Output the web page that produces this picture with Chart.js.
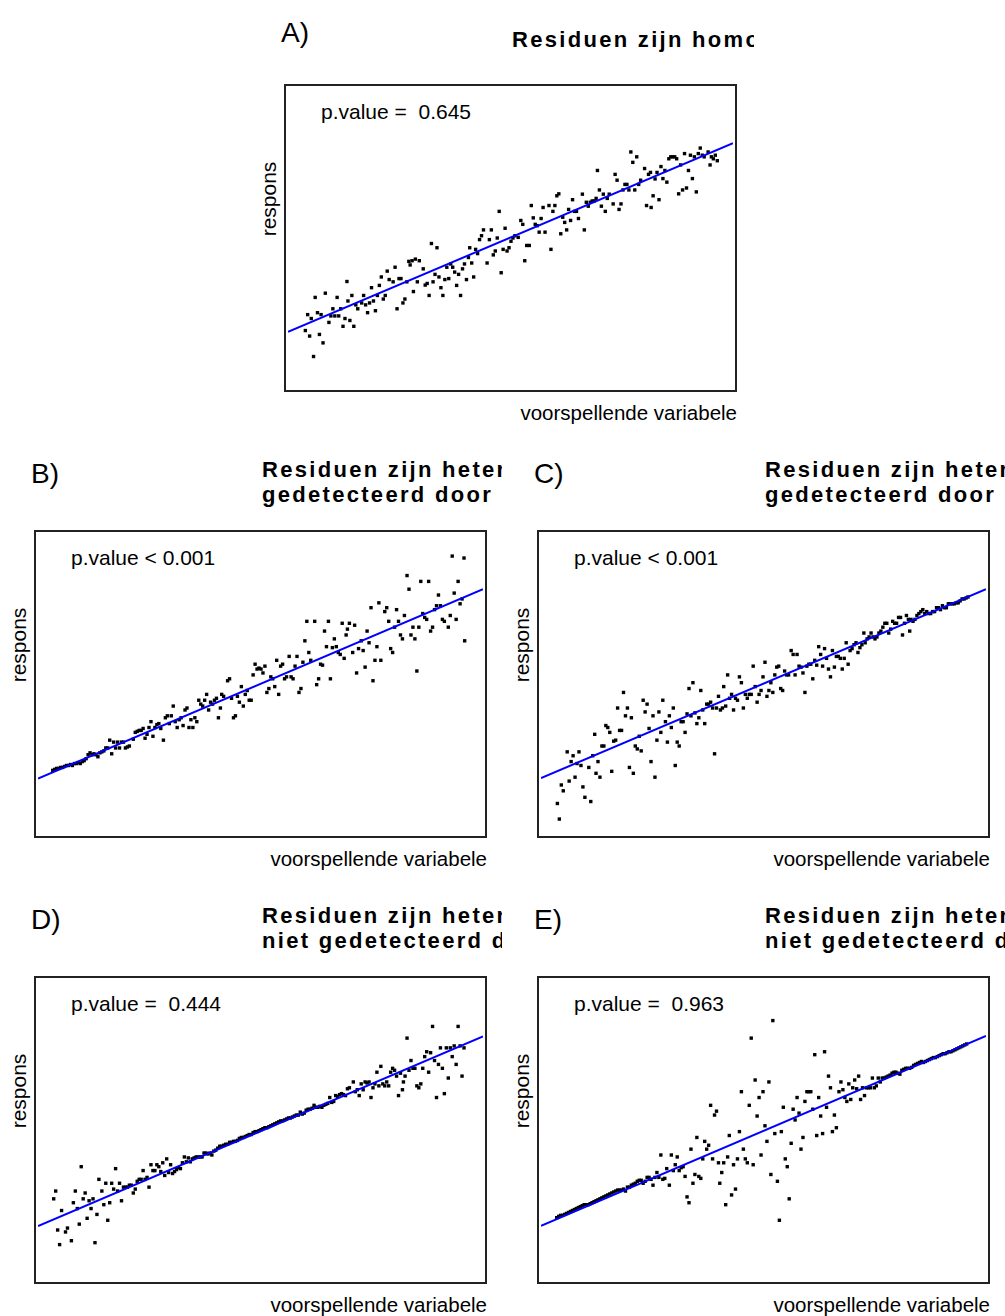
<!DOCTYPE html>
<html>
<head>
<meta charset="utf-8">
<script src="https://cdn.jsdelivr.net/npm/chart.js@4.4.1/dist/chart.umd.min.js"></script>
<style>
  body { margin: 0; background: #fff; width: 1005px; height: 1316px; position: relative; overflow: hidden;
         font-family: "Liberation Sans", Arial, sans-serif; color: #000; }
  canvas { position: absolute; }
  .t { position: absolute; white-space: pre; line-height: 1; }
  .panel { font-size: 28px; }
  .title { font-size: 22px; font-weight: bold; letter-spacing: 2.3px; line-height: 25px; overflow: hidden; }
  .pval { font-size: 21px; }
  .xlab { font-size: 20.5px; text-align: right; width: 300px; }
  .ylab { font-size: 21px; transform: translate(-50%, -50%) rotate(-90deg); }
</style>
</head>
<body>
<script>
// panel A: homoscedastic
const aX = [50,57,63,68,75,80,87,93,98,104,111,122,128,134,140,147,152,158,165,171,177,180,186,192,198,204,210,222,228,234,240,246,252,258,264,270,276,282,288,294,300,306,318,324,330,336,342,348,354,360,366,370,376,380,386,392,398,410,416,422,428,435,440,446,452,458,464,470,476,482,488,494,500,506,512,518,524,530,536,542,548,552,558,564,570,576,582,588,594,605,612,618,624,630,636,642,648,654,660,666,672,678,684,690,700,708,714,720,726,734,740,746,752,758,764,770,776,782,794,800,806,812,818,824,830,836,842,848,854,860,866,872,878,884,896,902,908,914,920,926,932,938,942,948,954,960,966,972,978,990,996,1002,1008,1014,1020,1026,1032,1038,1044,1050,1056,1062,1068,1074,1086,1092,1098,1104,1106,1112,1118,1124,1130,1136,1142,1148,1154,1160,1166,1172,1178,1184,1190,1196,1202,1208,1214,1220,1226,1232,1238,1244,1250,1256,1262,1268,1280,1286,1290,1296,1302,1308];
const aY = [295,344,278,332,215,397,350,283,344,257,410,320,340,362,340,397,340,362,308,332,446,386,326,403,308,374,362,380,403,374,350,380,427,386,356,403,434,460,392,403,478,452,445,490,362,455,455,380,392,445,508,497,510,415,515,445,510,485,435,440,403,563,445,468,550,460,427,403,452,490,455,500,490,475,434,468,403,485,500,452,520,550,503,460,545,532,575,587,605,503,575,605,528,540,580,662,473,545,610,540,550,570,580,587,582,634,622,510,557,557,680,642,622,618,598,640,674,598,680,545,662,680,710,716,593,644,628,605,668,634,698,662,662,640,715,605,690,678,690,694,694,702,788,728,678,715,662,702,715,685,776,758,668,685,728,745,745,728,845,813,728,830,745,758,794,680,776,782,674,710,762,782,698,800,763,788,752,824,830,830,830,824,716,805,728,840,734,788,835,763,830,722,840,857,835,830,845,805,830,824,835,818];
const aFit = [291, 872];

// panel B: heteroscedastic, spread grows
const bX = [42,48,54,60,66,72,78,84,90,96,102,108,114,120,126,132,138,144,150,156,162,168,174,180,186,192,198,204,210,216,222,228,234,240,246,252,258,264,270,276,288,294,300,306,312,318,324,330,336,342,348,354,360,366,372,380,386,392,398,404,410,416,422,428,434,440,446,452,458,464,470,476,482,488,494,500,506,512,518,524,530,536,542,548,554,558,564,576,582,588,594,600,606,612,618,624,630,636,642,648,654,660,666,672,678,684,690,696,702,708,714,720,726,732,738,744,750,756,764,770,776,782,788,794,800,806,812,818,824,830,842,848,854,860,866,872,878,884,890,896,902,908,914,920,926,932,938,942,948,958,964,970,976,984,990,996,1002,1008,1014,1020,1026,1032,1038,1044,1056,1062,1068,1074,1080,1086,1092,1098,1104,1110,1116,1124,1130,1136,1142,1148,1154,1160,1166,1172,1178,1184,1190,1196,1202,1208,1214,1220,1226,1232,1238,1250,1256,1262,1268,1274,1280,1286,1292,1298,1300];
const bY = [272,275,278,278,281,281,284,287,287,290,287,293,293,296,293,299,302,308,320,326,320,323,320,314,326,329,332,341,341,365,323,359,341,359,341,359,359,341,344,347,368,389,392,395,395,401,371,383,404,422,377,404,413,416,401,365,434,440,416,440,470,422,404,428,434,410,458,464,404,428,404,434,422,488,476,470,488,506,458,482,476,488,494,434,464,506,500,548,554,494,434,440,500,482,530,470,506,518,488,488,566,599,584,587,584,572,593,512,524,560,554,530,611,506,593,599,554,560,623,560,554,593,623,512,524,605,671,731,635,611,731,536,554,599,596,701,653,731,554,650,677,653,635,629,725,617,689,707,725,635,719,572,647,671,641,590,701,665,773,548,611,653,788,611,761,773,731,647,635,713,767,731,689,677,749,872,830,689,713,677,578,713,854,755,743,737,854,701,713,767,779,812,779,737,731,713,749,932,818,737,854,785,800,926,671];
const bFit = [247, 830];

// panel C: heteroscedastic, spread shrinks
const cX = [50,56,62,68,80,86,92,98,104,110,116,122,128,134,146,152,158,164,168,174,180,186,192,198,204,210,216,222,228,234,240,246,252,258,264,270,276,282,288,294,300,306,312,318,324,330,336,342,348,354,360,366,372,380,386,392,398,404,410,416,422,428,434,440,446,452,458,464,470,476,482,488,494,500,506,512,518,524,530,536,542,548,554,558,564,570,576,582,588,594,600,606,612,618,624,630,636,642,648,654,660,666,672,678,684,690,696,702,708,714,720,726,732,738,744,750,756,764,770,776,782,788,794,800,806,812,818,824,830,836,842,848,854,860,866,872,878,884,890,896,902,908,914,920,926,932,938,944,950,956,962,968,974,980,986,990,996,1002,1008,1014,1020,1026,1032,1038,1044,1050,1056,1062,1068,1074,1080,1086,1092,1098,1104,1110,1116,1122,1126,1130,1136,1142,1148,1154,1160,1166,1172,1178,1184,1190,1196,1202,1208,1214,1220,1226,1232,1238,1244,1250,1256,1262,1268,1274,1280,1286,1292,1298,1304];
const cY = [170,122,227,209,329,239,299,317,251,293,329,287,221,189,281,176,317,383,263,299,251,347,347,410,404,389,269,362,365,464,395,395,512,440,464,281,434,263,347,338,377,332,488,452,476,401,299,440,251,365,452,389,488,422,359,440,404,464,287,359,347,422,422,389,446,524,440,542,449,416,434,518,458,416,476,476,482,464,323,464,500,458,464,530,470,566,494,506,458,494,488,560,542,464,506,494,506,506,593,530,482,506,518,560,605,500,518,542,512,566,590,593,524,518,578,566,566,641,629,566,629,593,590,572,512,593,599,599,554,611,596,653,629,593,647,617,584,560,641,590,623,623,617,584,617,665,599,641,647,659,665,635,650,659,695,665,677,683,695,683,677,683,695,701,713,725,725,695,707,731,725,725,743,743,689,725,749,737,701,737,731,737,749,755,761,767,755,761,755,755,761,761,773,773,767,779,773,773,785,785,785,785,788,788,794,800,800,803,806];
const cFit = [248, 830];

// panel D: heteroscedastic at both ends, not detected
const dX = [45,51,57,63,69,81,87,99,105,111,117,123,129,135,141,147,153,159,165,171,177,183,192,198,204,210,216,222,228,234,240,246,252,258,264,270,276,282,288,294,300,306,312,318,324,330,336,342,348,354,360,366,372,378,384,390,396,402,408,414,420,426,432,438,444,450,456,462,468,474,480,486,492,498,504,510,516,522,528,534,540,546,552,558,564,570,576,582,588,594,600,606,612,618,624,630,636,642,648,654,660,666,672,678,684,690,696,702,708,714,720,726,732,738,744,750,756,762,768,774,780,786,792,798,804,810,816,822,828,834,840,846,852,858,864,870,876,882,888,894,900,906,912,918,924,930,936,942,948,960,966,972,978,984,990,996,1002,1008,1014,1020,1026,1032,1038,1044,1050,1056,1062,1068,1074,1080,1086,1092,1098,1104,1110,1113,1118,1124,1130,1136,1142,1148,1154,1160,1166,1172,1178,1184,1190,1196,1202,1208,1214,1220,1226,1232,1238,1244,1250,1256,1262,1268,1274,1280,1286,1292,1298];
const dY = [248,272,152,107,212,146,158,119,236,272,218,170,347,248,266,188,242,218,248,113,200,308,272,230,296,182,236,296,278,341,272,296,242,284,284,284,290,290,266,278,302,308,308,335,308,314,284,353,335,335,353,347,332,359,320,371,329,353,326,332,338,344,341,359,377,362,374,362,371,374,377,377,377,377,389,389,386,389,383,395,398,404,410,410,413,416,416,422,422,425,425,428,434,437,437,440,443,446,446,452,455,455,458,461,464,467,467,470,473,476,479,482,485,488,488,491,494,497,497,500,503,506,506,515,509,512,521,524,524,527,536,530,530,533,530,536,539,542,560,545,548,566,563,569,572,569,566,587,590,608,578,584,566,602,584,608,605,608,560,590,602,638,596,656,602,596,608,596,638,650,644,626,566,635,584,608,626,743,644,674,650,650,596,590,602,650,686,701,638,698,779,674,560,662,713,650,572,713,620,713,686,719,662,779,719,626,713];
const dFit = [164, 748];

// panel E: heteroscedastic in the middle, not detected
const eX = [48,54,60,66,72,78,84,90,96,102,108,114,120,126,132,138,144,150,156,162,168,174,180,186,192,198,204,210,216,222,228,234,240,246,252,258,264,270,276,282,288,294,300,306,312,318,324,330,336,342,348,354,360,366,372,378,384,392,398,404,410,416,422,428,434,440,446,452,458,464,470,476,482,488,494,500,506,512,518,524,530,536,542,546,552,558,564,570,575,582,588,594,600,606,612,618,624,630,636,642,648,654,660,666,672,678,684,690,696,702,708,714,722,728,734,740,746,752,758,764,770,776,782,788,794,800,806,812,818,824,830,836,842,848,854,860,866,872,878,884,890,896,902,910,916,922,928,934,940,946,952,958,964,970,976,982,988,994,1000,1006,1012,1018,1024,1030,1036,1042,1048,1054,1060,1066,1072,1078,1084,1090,1096,1102,1108,1114,1120,1126,1132,1138,1144,1150,1156,1162,1168,1174,1180,1186,1192,1198,1204,1210,1216,1222,1228,1234,1240,1246,1252,1258,1264,1270,1276,1282,1288,1294,1300];
const eY = [190,194,197,197,200,203,206,209,212,215,218,221,224,227,230,230,230,233,236,239,242,245,248,251,254,257,260,263,266,269,272,275,275,275,278,272,284,284,290,293,296,302,305,305,296,302,314,314,308,290,314,329,314,383,308,311,341,290,383,335,353,377,335,344,347,317,254,236,401,296,323,437,317,311,371,425,401,413,536,371,506,518,359,296,329,359,230,377,443,260,353,278,371,455,578,401,371,359,536,743,353,614,503,560,383,578,473,425,608,323,797,449,302,182,455,530,371,347,248,419,524,491,560,512,401,437,548,578,578,578,524,692,443,560,503,449,701,530,626,590,455,506,467,578,608,584,560,548,602,554,590,614,587,626,554,590,566,590,590,590,620,590,596,620,608,620,620,623,626,629,635,638,638,635,632,644,647,650,650,650,653,659,662,665,668,671,668,671,674,677,680,683,683,686,689,692,695,695,698,701,701,704,707,710,713,716,719,722,725];
const eFit = [165, 750];

const panels = [
  { label: 'A)', left: 284, top: 84,  xs: aX, ys: aY, xr: [-3, 1356], yr: [118, 1042], fit: aFit, p: 'p.value =  0.645',
    title: 'Residuen zijn homoscedastisch', clip: 754 },
  { label: 'B)', left: 34,  top: 530, xs: bX, ys: bY, xr: [-3, 1356], yr: [76, 1000],  fit: bFit, p: 'p.value < 0.001',
    title: 'Residuen zijn heteroscedastisch en\ngedetecteerd door Breusch-Pagan test', clip: 502 },
  { label: 'C)', left: 537, top: 530, xs: cX, ys: cY, xr: [0, 1359],  yr: [76, 1000],  fit: cFit, p: 'p.value < 0.001',
    title: 'Residuen zijn heteroscedastisch en\ngedetecteerd door Breusch-Pagan test', clip: 1005 },
  { label: 'D)', left: 34,  top: 976, xs: dX, ys: dY, xr: [-3, 1356], yr: [-2, 922],   fit: dFit, p: 'p.value =  0.444',
    title: 'Residuen zijn heteroscedastisch maar\nniet gedetecteerd door Breusch-Pagan test', clip: 502 },
  { label: 'E)', left: 537, top: 976, xs: eX, ys: eY, xr: [0, 1359],  yr: [-2, 922],   fit: eFit, p: 'p.value =  0.963',
    title: 'Residuen zijn heteroscedastisch maar\nniet gedetecteerd door Breusch-Pagan test', clip: 1005 }
];

const W = 453, H = 308;

const frame = {
  id: 'frame',
  afterDraw(chart) {
    const ctx = chart.ctx;
    ctx.save();
    ctx.strokeStyle = '#222';
    ctx.lineWidth = 2;
    ctx.strokeRect(1, 1, chart.width - 2, chart.height - 2);
    ctx.restore();
  }
};

function addText(cls, text, css) {
  const d = document.createElement('div');
  d.className = 't ' + cls;
  d.textContent = text;
  Object.assign(d.style, css);
  document.body.appendChild(d);
  return d;
}

panels.forEach(p => {
  const two = p.title.indexOf('\n') >= 0;
  // the top row sits a few pixels lower relative to its box
  const shift = two ? 0 : 5;
  addText('panel', p.label, { left: (p.left - 3) + 'px', top: (p.top - 70 + shift) + 'px' });
  addText('title', p.title, {
    left: (p.left + 228) + 'px',
    top: (two ? p.top - 73 : p.top - 57) + 'px',
    width: (p.clip - p.left - 228) + 'px'
  });
  addText('pval', p.p, { left: (p.left + 37) + 'px', top: (p.top + 17) + 'px' });
  addText('xlab', 'voorspellende variabele', { left: (p.left + W - 300) + 'px', top: (p.top + H + 11) + 'px' });
  addText('ylab', 'respons', { left: (p.left - 16) + 'px', top: (p.top + 115) + 'px' });

  const cv = document.createElement('canvas');
  cv.width = W; cv.height = H;
  cv.style.left = p.left + 'px';
  cv.style.top = p.top + 'px';
  document.body.appendChild(cv);

  new Chart(cv, {
    type: 'scatter',
    data: {
      datasets: [
        {
          data: [{ x: p.xr[0], y: p.fit[0] }, { x: p.xr[1], y: p.fit[1] }],
          showLine: true,
          borderColor: '#0000ff',
          borderWidth: 2,
          pointRadius: 0
        },
        {
          data: p.xs.map((x, i) => ({ x: x, y: p.ys[i] })),
          pointStyle: 'rect',
          pointRadius: 2.4,
          backgroundColor: '#000',
          borderWidth: 0
        }
      ]
    },
    options: {
      responsive: false,
      animation: false,
      devicePixelRatio: 1,
      events: [],
      layout: { padding: 0 },
      plugins: { legend: { display: false }, tooltip: { enabled: false } },
      scales: {
        x: { type: 'linear', min: p.xr[0], max: p.xr[1], display: false },
        y: { type: 'linear', min: p.yr[0], max: p.yr[1], display: false }
      }
    },
    plugins: [frame]
  });
});
</script>
</body>
</html>
